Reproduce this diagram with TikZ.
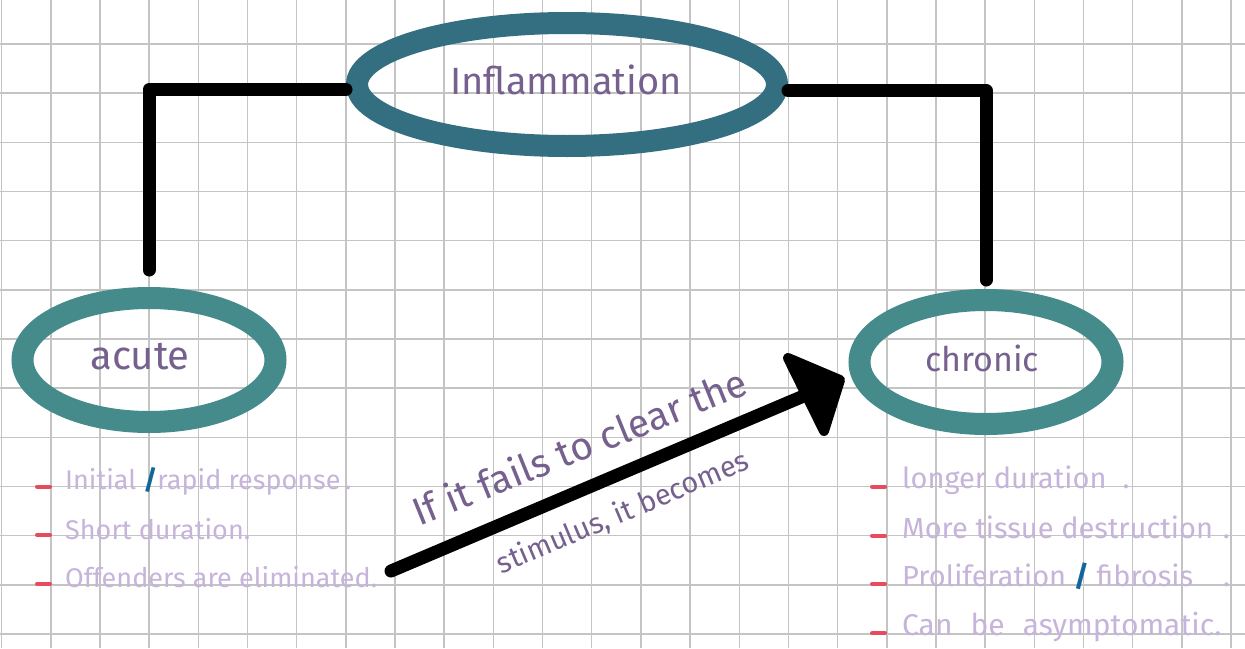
\documentclass[tikz,border=0pt]{standalone}
\usepackage{fontspec}
\setmainfont{Fira Sans}
\usetikzlibrary{shapes.geometric}
\definecolor{gridc}{HTML}{C4C4C4}
\definecolor{darkteal}{HTML}{336F80}
\definecolor{teal2}{HTML}{468B8C}
\definecolor{purp}{HTML}{76608E}
\definecolor{lav}{HTML}{C6B4DA}
\definecolor{redm}{HTML}{E84A5F}
\definecolor{slashb}{HTML}{12669A}
\tikzset{
  gridline/.style={draw=gridc, line width=1.5pt},
  bigell/.style={ellipse, draw=darkteal, line width=22pt, inner sep=0pt},
  smallell/.style={ellipse, draw=teal2, line width=22pt, inner sep=0pt, minimum width=253pt, minimum height=124pt},
  title/.style={text=purp, inner sep=0pt},
  conn/.style={draw=black, line width=13pt, line cap=round, line join=round},
  bullettext/.style={text=lav, anchor=base west, inner sep=0pt},
  bulletmark/.style={draw=redm, line width=4pt, line cap=round},
  arrowlbl/.style={text=purp, inner sep=0pt}
}
\newcommand{\bslash}{{\color{slashb}\bfseries /}}
\begin{document}
\begin{tikzpicture}[x=1pt,y=-1pt]
\useasboundingbox[fill=white] (0,0) rectangle (1245,648);
% grid
\foreach \i in {0,...,25} \draw[gridline] ({1.7+49.17*\i},0) -- ({1.7+49.17*\i},648);
\foreach \j in {0,...,12} \draw[gridline] (0,{44+49.17*\j}) -- (1245,{44+49.17*\j});
% ellipses
\node[bigell, minimum width=420pt, minimum height=123pt] (infl) at (567,84.5) {};
\node[smallell] (acute) at (149,360) {};
\node[smallell] (chronic) at (986,362) {};
\node[title, font=\fontsize{38}{40}\selectfont] (inflt) at (566,80) {Inflammation};
\node[title, font=\fontsize{40}{42}\selectfont] (acutet) at (140,357) {acute};
\node[title, font=\fontsize{34}{36}\selectfont] (chronict) at (982,358) {chronic};
% connectors
\draw[conn] ([yshift=-5pt]infl.west) -| ([yshift=17pt]acute.north);
\draw[conn] ([yshift=-6pt]infl.east) -| ([yshift=9pt]chronic.north);
% arrow
\coordinate (s) at (391,571);
\coordinate (ah) at (806,395);
\draw[conn] (s) -- (ah);
\filldraw[line width=10pt, line join=round] (788,358) -- (840,380) -- (824,431) -- cycle;
\node[arrowlbl, rotate=22, font=\fontsize{39}{41}\selectfont] (lbl1) at (579,446) {If it fails to clear the};
\node[arrowlbl, rotate=23, font=\fontsize{29}{31}\selectfont] (lbl2) at (623,513) {stimulus, it becomes};
% left bullets
\foreach \y in {486.7,535,584} \draw[bulletmark] (37,\y) -- (50,\y);
\node[bullettext, font=\fontsize{27}{29}\selectfont] (a1) at (65,489) {Initial \bslash rapid response\,.};
\node[bullettext, font=\fontsize{27}{29}\selectfont] (a2) at (65,539) {Short duration.};
\node[bullettext, font=\fontsize{27}{29}\selectfont] (a3) at (65,587) {Offenders are eliminated.};
% right bullets
\foreach \y in {486.7,535.7,584,633.3} \draw[bulletmark] (872,\y) -- (885,\y);
\node[bullettext, font=\fontsize{29}{31}\selectfont] (c1) at (902,488) {longer duration\hspace{16pt}.};
\node[bullettext, font=\fontsize{29}{31}\selectfont] (c2) at (902,538) {More tissue destruction\hspace{10pt}.};
\node[bullettext, font=\fontsize{29}{31}\selectfont] (c3) at (902,586) {Proliferation \bslash\ fibrosis\hspace{30pt}.};
\node[bullettext, font=\fontsize{30}{32}\selectfont] (c4) at (902,635) {Can\hspace{18pt}be\hspace{18pt}asymptomatic.};
\end{tikzpicture}
\end{document}
